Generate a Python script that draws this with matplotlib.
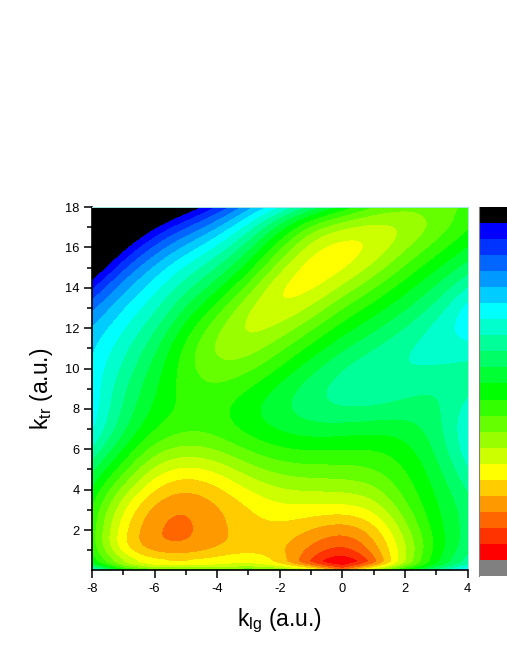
import numpy as np
import matplotlib
matplotlib.use("Agg")
import matplotlib.pyplot as plt
from matplotlib.colors import ListedColormap, BoundaryNorm
from matplotlib.ticker import MultipleLocator

plt.rcParams['font.family'] = ['Liberation Sans', 'DejaVu Sans']
plt.rcParams['mathtext.fontset'] = 'custom'
plt.rcParams['mathtext.rm'] = 'Liberation Sans'
plt.rcParams['mathtext.it'] = 'Liberation Sans'
plt.rcParams['axes.unicode_minus'] = False

k_lg = [-8, -7, -6, -5, -4, -3, -2, -1, 0, 1, 2, 3, 4]
k_tr = [0.02, 0.5, 1, 2, 3, 4, 5, 6, 7, 8, 9, 10, 11, 12, 13, 14, 15, 16, 17, 18]

# Level value at each k_tr, one list for each k_lg column
col_m8 = [16, 11.5, 10.8, 10.3, 10.8, 11.6, 12.9, 14.6, 16.1, 16.4, 16.5, 16.7, 17.2, 17.8, 19.4, 20.9, 23.5, 25.5, 27.5, 30]
col_m7 = [11, 7.8, 6.8, 6.2, 7.5, 8.9, 10.8, 12.2, 13.5, 13.9, 14.1, 14.8, 15.1, 15.8, 16.7, 18, 20.3, 22.4, 25, 28]
col_m6 = [9, 6.1, 5.1, 3.8, 4.6, 5.7, 7.2, 9, 10.9, 11.6, 12.1, 12.8, 13.4, 14.5, 15.6, 16.5, 17.6, 19.6, 21.8, 24.5]
col_m5 = [9.5, 6, 4.9, 3.5, 4.2, 5.1, 6.7, 8.7, 10.3, 10.8, 10.5, 10.2, 10.7, 11.4, 12.5, 14, 15.6, 17.5, 20, 23]
col_m4 = [9, 6, 5.2, 4.6, 5.05, 5.8, 7, 9, 10.3, 10.4, 10.1, 9.5, 8.3, 9.5, 11, 12.5, 13.8, 15.8, 18, 21]
col_m3 = [9.5, 6.6, 5.8, 5.4, 5.9, 7, 8.7, 10, 11.4, 11.9, 10.9, 9.6, 8.7, 7.5, 7.5, 10.2, 11.7, 13.3, 15.3, 18]
col_m2 = [9, 6.2, 5.5, 5.8, 6.7, 7.8, 9.3, 10.7, 11.8, 12.7, 12.2, 11, 9.8, 8.5, 7.2, 5.8, 8.7, 10.3, 12.5, 16]
col_m1 = [7, 3.0, 3.8, 5, 6.7, 8, 9.6, 10.9, 12.5, 13.6, 13.4, 12.4, 11.2, 9.7, 8.3, 6.9, 5.8, 7.7, 9, 13.4]
col_p0 = [3.5, 0.3, 1.6, 4.2, 6.6, 8.3, 9.7, 10.9, 12.3, 14, 14.4, 13.8, 12.7, 11.5, 10.1, 8.5, 7.2, 6.5, 8.6, 11.7]
col_p1 = [7.5, 3.6, 4.5, 5.1, 6.6, 8.2, 10, 11, 12.1, 14, 14.7, 14.8, 13.7, 12.5, 11.3, 9.9, 8.3, 7.2, 7.7, 9.8]
col_p2 = [11, 8.5, 7.9, 8.4, 10.1, 10.7, 11, 11.5, 12.4, 13.7, 14.1, 15.1, 14.8, 13.8, 12.7, 11.5, 10.3, 8.9, 7.9, 9.3]
col_p3 = [14, 11.5, 11.4, 11.6, 11.9, 12, 12.6, 13.3, 13.7, 13.7, 13.8, 14.7, 15.6, 15.4, 14.1, 13, 11.7, 10.5, 9.3, 9.7]
col_p4 = [17, 14.2, 13.6, 13.3, 13.3, 14, 14.8, 15.5, 15.7, 15.6, 14.7, 14.7, 15.3, 16.8, 16.4, 14.7, 13.4, 12, 10.7, 10.2]

band_colors = ['#808080', '#ff0000', '#ff3300', '#ff6600', '#ff9900', '#ffcc00', '#ffff00',
               '#ccff00', '#99ff00', '#66ff00', '#33ff00', '#00ff00', '#00ff33', '#00ff66',
               '#00ff99', '#00ffcc', '#00ffff', '#00ccff', '#0099ff', '#0066ff', '#0033ff',
               '#0000ff', '#000000']
x_ticks = [-8, -6, -4, -2, 0, 2, 4]
y_ticks = [2, 4, 6, 8, 10, 12, 14, 16, 18]

W, H = 507, 656
fig = plt.figure(figsize=(W / 100, H / 100), dpi=100)
ax = fig.add_axes([92 / W, (H - 570) / H, (467.5 - 92) / W, (570 - 207) / H])

Z = np.array([col_m8, col_m7, col_m6, col_m5, col_m4, col_m3, col_m2, col_m1,
              col_p0, col_p1, col_p2, col_p3, col_p4]).T


def smoother(n, lam):
    D = np.diff(np.eye(n), 3, axis=0)
    return np.linalg.inv(np.eye(n) + lam * D.T @ D)


def spline_matrix(t, tf):
    t = np.asarray(t, float)
    n = len(t)
    h = np.diff(t)
    A = np.zeros((n, n))
    B = np.zeros((n, n))
    A[0, 0] = A[-1, -1] = 1
    for i in range(1, n - 1):
        A[i, i - 1:i + 2] = h[i - 1] / 6, (h[i - 1] + h[i]) / 3, h[i] / 6
        B[i, i - 1] = 1 / h[i - 1]
        B[i, i] = -1 / h[i - 1] - 1 / h[i]
        B[i, i + 1] = 1 / h[i]
    M = np.linalg.solve(A, B)
    j = np.clip(np.searchsorted(t, tf) - 1, 0, n - 2)
    a = (t[j + 1] - tf) / h[j]
    b = (tf - t[j]) / h[j]
    S = np.zeros((len(tf), n))
    r = np.arange(len(tf))
    S[r, j] += a
    S[r, j + 1] += b
    S += ((a ** 3 - a) * h[j] ** 2 / 6)[:, None] * M[j]
    S += ((b ** 3 - b) * h[j] ** 2 / 6)[:, None] * M[j + 1]
    return S


# Light smoothing of the read values, then a smooth surface through them; the
# thin steep rim along the bottom edge is added from the first row.
rows = np.array(k_tr[1:])
Zs = smoother(len(rows), 0.15) @ Z[1:] @ smoother(len(k_lg), 0.15)
xf = np.linspace(k_lg[0], k_lg[-1], 500)
yf = np.linspace(k_tr[0], k_tr[-1], 900)
ZF = spline_matrix(rows, np.maximum(yf, rows[0])) @ Zs @ spline_matrix(k_lg, xf).T
rim = np.interp(xf, k_lg, Z[0]) - ZF[0]
ZF = ZF + np.outer(np.clip((rows[0] - yf) / (rows[0] - k_tr[0]), 0, 1) ** 2, rim)

levels = [-100] + list(range(1, 23)) + [200]
cmap = ListedColormap(band_colors)
norm = BoundaryNorm(levels, cmap.N)
cs = ax.contourf(xf, yf, ZF, levels=levels, cmap=cmap, norm=norm)
cs.set_edgecolor('face')
cs.set_linewidth(0.3)

ax.set_xlim(-8, 4)
ax.set_ylim(0.02, 18)
ax.set_xticks(x_ticks)
ax.set_yticks(y_ticks)
ax.xaxis.set_minor_locator(MultipleLocator(1))
ax.yaxis.set_minor_locator(MultipleLocator(1))
ax.tick_params(which='major', length=6, width=1.1, labelsize=9.3, pad=3)
ax.tick_params(which='minor', length=3.5, width=1.1)
for s in ('left', 'bottom'):
    ax.spines[s].set_linewidth(1.2)
for s in ('top', 'right'):
    ax.spines[s].set_linewidth(0.7)
    ax.spines[s].set_color('#a8e8e8')
ax.set_xlabel(r'k$_{\mathrm{lg}}$ (a.u.)', fontsize=16.5, labelpad=9)
ax.set_ylabel(r'k$_{\mathrm{tr}}$ (a.u.)', fontsize=16.5, labelpad=7)

cax = fig.add_axes([479 / W, (H - 576) / H, 28 / W, (576 - 207) / H])
edges = np.arange(len(band_colors) + 1)
cax.pcolormesh([0, 1], edges, np.arange(len(band_colors)).reshape(-1, 1),
               cmap=cmap, vmin=-0.5, vmax=len(band_colors) - 0.5)
cax.set_xticks([])
cax.set_yticks([])
for s in cax.spines.values():
    s.set_visible(False)
cax.spines['left'].set_visible(True)
cax.spines['left'].set_color('#808080')
cax.spines['left'].set_linewidth(0.8)

fig.savefig('out.png', dpi=100)
